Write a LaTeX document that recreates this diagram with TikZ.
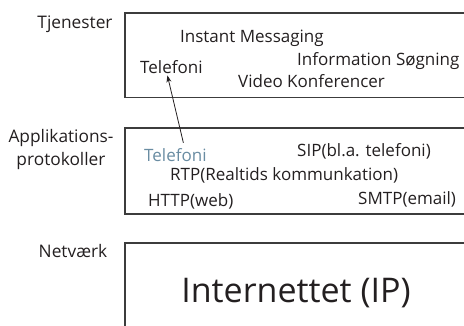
\documentclass[tikz,border=0pt]{standalone}
\usepackage{fontspec}
\setmainfont{Open Sans}
\usepackage{xcolor}
\usetikzlibrary{arrows.meta}
\definecolor{lagtekst}{RGB}{35,31,32}
\definecolor{lagramme}{RGB}{60,60,60}
\definecolor{protoblaa}{RGB}{105,140,162}

\begin{document}
\begin{tikzpicture}[x=1pt,y=-1pt,
lag/.style={draw=lagramme,line width=1.2pt},
tekst/.style={text=lagtekst,font=\fontsize{17}{20}\selectfont,inner sep=0pt,anchor=base west},
navn/.style={text=lagtekst,font=\fontsize{17.3}{23}\selectfont,inner sep=0pt,align=center}]
\useasboundingbox (0,0) rectangle (464,325);

% lagene
\draw[lag] (470,13) -- (125,13) -- (125,97.5) -- (470,97.5);
\draw[lag] (470,128) -- (125,128) -- (125,214) -- (470,214);
\draw[lag] (470,243) -- (125,243) -- (125,330);

% navne til venstre
\node (Tjen) [navn] at (75,24) {Tjenester};
\node (Appl) [navn] at (61,150) {Applikations-\\protokoller};
\node (Net) [navn] at (73,251) {Netværk};

% tjenester
\node (IM) [tekst] at (180,42) {Instant Messaging};
\node (Info) [tekst] at (297,65) {Information Søgning};
\node (TelTop) [tekst] at (140,73) {Telefoni};
\node (Video) [tekst] at (238,87) {Video Konferencer};

% protokoller
\node (TelProto) [tekst,text=protoblaa] at (144,161) {Telefoni};
\node (SIP) [tekst] at (297,156) {SIP(bl.a. telefoni)};
\node (RTP) [tekst] at (170,180) {RTP(Realtids kommunkation)};
\node (HTTP) [tekst] at (148,206) {HTTP(web)};
\node (SMTP) [tekst] at (358,204) {SMTP(email)};

% netværk
\node (IP) [text=lagtekst,font=\fontsize{34}{38}\selectfont,inner sep=0pt,anchor=base] at (296,302) {Internettet (IP)};

\draw[-{Stealth[length=7pt,width=5pt]},line width=0.8pt,lagtekst] ([xshift=8pt,yshift=5pt]TelProto.north) -- ([xshift=-4pt,yshift=-2pt]TelTop.south);

\end{tikzpicture}
\end{document}
